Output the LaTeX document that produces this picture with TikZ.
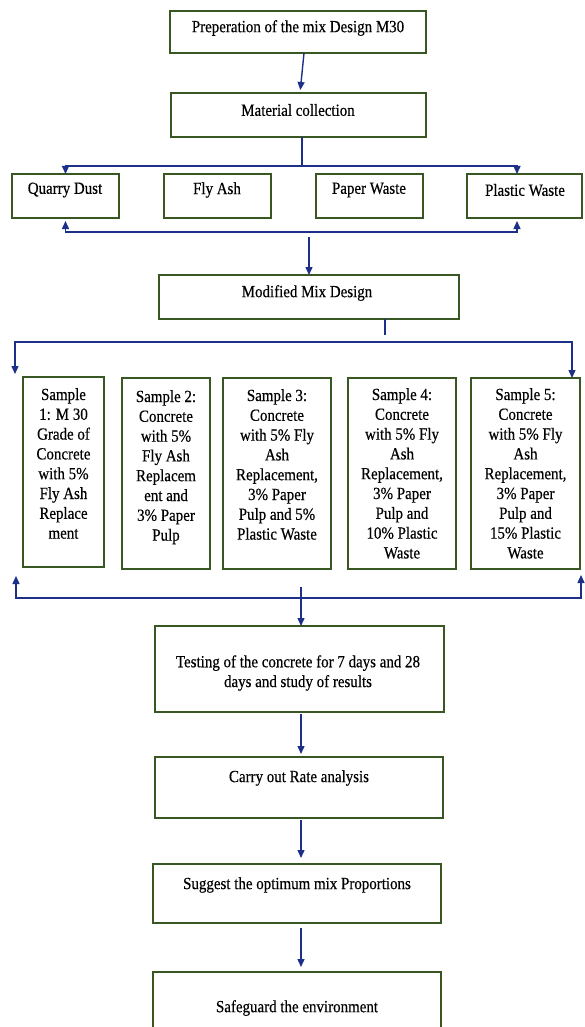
\documentclass[tikz,border=0pt]{standalone}
\usepackage{fontspec}
\setmainfont[FakeStretch=0.88,FakeBold=0.4]{Liberation Serif}
\usetikzlibrary{arrows.meta}
\definecolor{boxgreen}{RGB}{56,87,35}
\definecolor{arrowblue}{RGB}{28,48,135}
\definecolor{lineblue}{RGB}{60,100,190}
\begin{document}
\begin{tikzpicture}[x=1pt,y=-1pt,
  box/.style={draw=boxgreen, line width=1.4pt, rectangle, inner sep=0pt, outer sep=0pt},
  txt/.style={inner sep=0pt, align=center, font=\fontsize{17}{19.8}\selectfont, text=black},
  conn/.style={draw=arrowblue, line width=1.4pt},
  arr/.style={conn, -{Triangle[length=8pt,width=7pt]}},
  bar/.style={draw=lineblue, line width=1.6pt}]
\useasboundingbox (0,0) rectangle (584,1027);
\fill[white] (0,0) rectangle (584,1027);

% boxes
\node[box, minimum width=256pt, minimum height=42pt] (prep) at (298,32) {};
\node[box, minimum width=255pt, minimum height=44pt] (mat) at (298.5,115) {};
\node[box, minimum width=107pt, minimum height=44pt] (qd) at (65.5,196) {};
\node[box, minimum width=107pt, minimum height=44pt] (fa) at (217.5,196) {};
\node[box, minimum width=107pt, minimum height=44pt] (pw) at (369.5,196) {};
\node[box, minimum width=115pt, minimum height=44pt] (pl) at (524.5,196) {};
\node[box, minimum width=300pt, minimum height=44pt] (mmd) at (309,297) {};
\node[box, minimum width=81pt, minimum height=190pt] (s1) at (63.5,472) {};
\node[box, minimum width=88pt, minimum height=191pt] (s2) at (166,473.5) {};
\node[box, minimum width=108pt, minimum height=191pt] (s3) at (277,473.5) {};
\node[box, minimum width=108pt, minimum height=191pt] (s4) at (402,473.5) {};
\node[box, minimum width=109pt, minimum height=191pt] (s5) at (525.5,473.5) {};
\node[box, minimum width=289pt, minimum height=86pt] (test) at (299.5,669) {};
\node[box, minimum width=288pt, minimum height=61pt] (rate) at (299,787.5) {};
\node[box, minimum width=288pt, minimum height=59pt] (opt) at (297,893.5) {};
\node[box, minimum width=288pt, minimum height=60pt] (env) at (297,1002) {};

% texts
\node[txt] (tprep) at (298,28) {Preperation of the mix Design M30};
\node[txt] (tmat) at (298,110) {Material collection};
\node[txt] (tqd) at (65,190) {Quarry Dust};
\node[txt] (tfa) at (217,190) {Fly Ash};
\node[txt] (tpw) at (369,190) {Paper Waste};
\node[txt] (tpl) at (525,190) {Plastic Waste};
\node[txt] (tmmd) at (307,293) {Modified Mix Design};
\node[txt, anchor=north] (ts1) at (63.5,388) {Sample\\1: M 30\\Grade of\\Concrete\\with 5\%\\Fly Ash\\Replace\\ment};
\node[txt, anchor=north] (ts2) at (166,390) {Sample 2:\\Concrete\\with 5\%\\Fly Ash\\Replacem\\ent and\\3\% Paper\\Pulp};
\node[txt, anchor=north] (ts3) at (277,389) {Sample 3:\\Concrete\\with 5\% Fly\\Ash\\Replacement,\\3\% Paper\\Pulp and 5\%\\Plastic Waste};
\node[txt, anchor=north] (ts4) at (402,388) {Sample 4:\\Concrete\\with 5\% Fly\\Ash\\Replacement,\\3\% Paper\\Pulp and\\10\% Plastic\\Waste};
\node[txt, anchor=north] (ts5) at (525.5,388) {Sample 5:\\Concrete\\with 5\% Fly\\Ash\\Replacement,\\3\% Paper\\Pulp and\\15\% Plastic\\Waste};
\node[txt] (ttest) at (298,673) {Testing of the concrete for 7 days and 28\\days and study of results};
\node[txt] (trate) at (299,778) {Carry out Rate analysis};
\node[txt] (topt) at (297,885) {Suggest the optimum mix Proportions};
\node[txt] (tenv) at (297,1008) {Safeguard the environment};

% junction coordinates
\coordinate (j1) at (302,166);
\coordinate (j2) at (309,232);
\coordinate (j2b) at (309,237);
\coordinate (j3a) at (385,335);
\coordinate (j3) at (385,342);
\coordinate (l3) at (15,374);
\coordinate (j4) at (301,598);
\coordinate (l4) at (16,576);
\coordinate (r4) at (581,575);
\coordinate (j5) at (301,587);

% connectors
\draw[arr, shorten >=3pt] ([xshift=6pt]prep.south) -- ([xshift=1.5pt]mat.north);
\draw[conn] ([xshift=3.5pt]mat.south) -- (j1);
\draw[arr] (j1) -| (qd.north);
\draw[arr] (j1) -| ([xshift=-7.5pt]pl.north);
\draw[arr, shorten >=3pt] (j2) -| (qd.south);
\draw[arr, shorten >=3pt] (j2) -| ([xshift=-7.5pt]pl.south);
\draw[arr] (j2b) -- (mmd.north);
\draw[conn] (mmd.south -| j3a) -- (j3a);
\draw[arr] (j3) -| (l3);
\draw[arr] (j3) -| ([xshift=46.5pt]s5.north);
\draw[bar] (l4 |- j4) -- (r4 |- j4);
\draw[arr] (j4) -| (l4);
\draw[arr] (j4) -| (r4);
\draw[arr] (j5) -- ([xshift=1.5pt]test.north);
\draw[arr, shorten <=2pt, shorten >=3pt] ([xshift=1.5pt]test.south) -- ([xshift=2pt]rate.north);
\draw[arr, shorten <=2pt, shorten >=6pt] ([xshift=2pt]rate.south) -- ([xshift=4pt]opt.north);
\draw[arr, shorten <=5pt, shorten >=5pt] ([xshift=4pt]opt.south) -- ([xshift=4pt]env.north);
\end{tikzpicture}
\end{document}
